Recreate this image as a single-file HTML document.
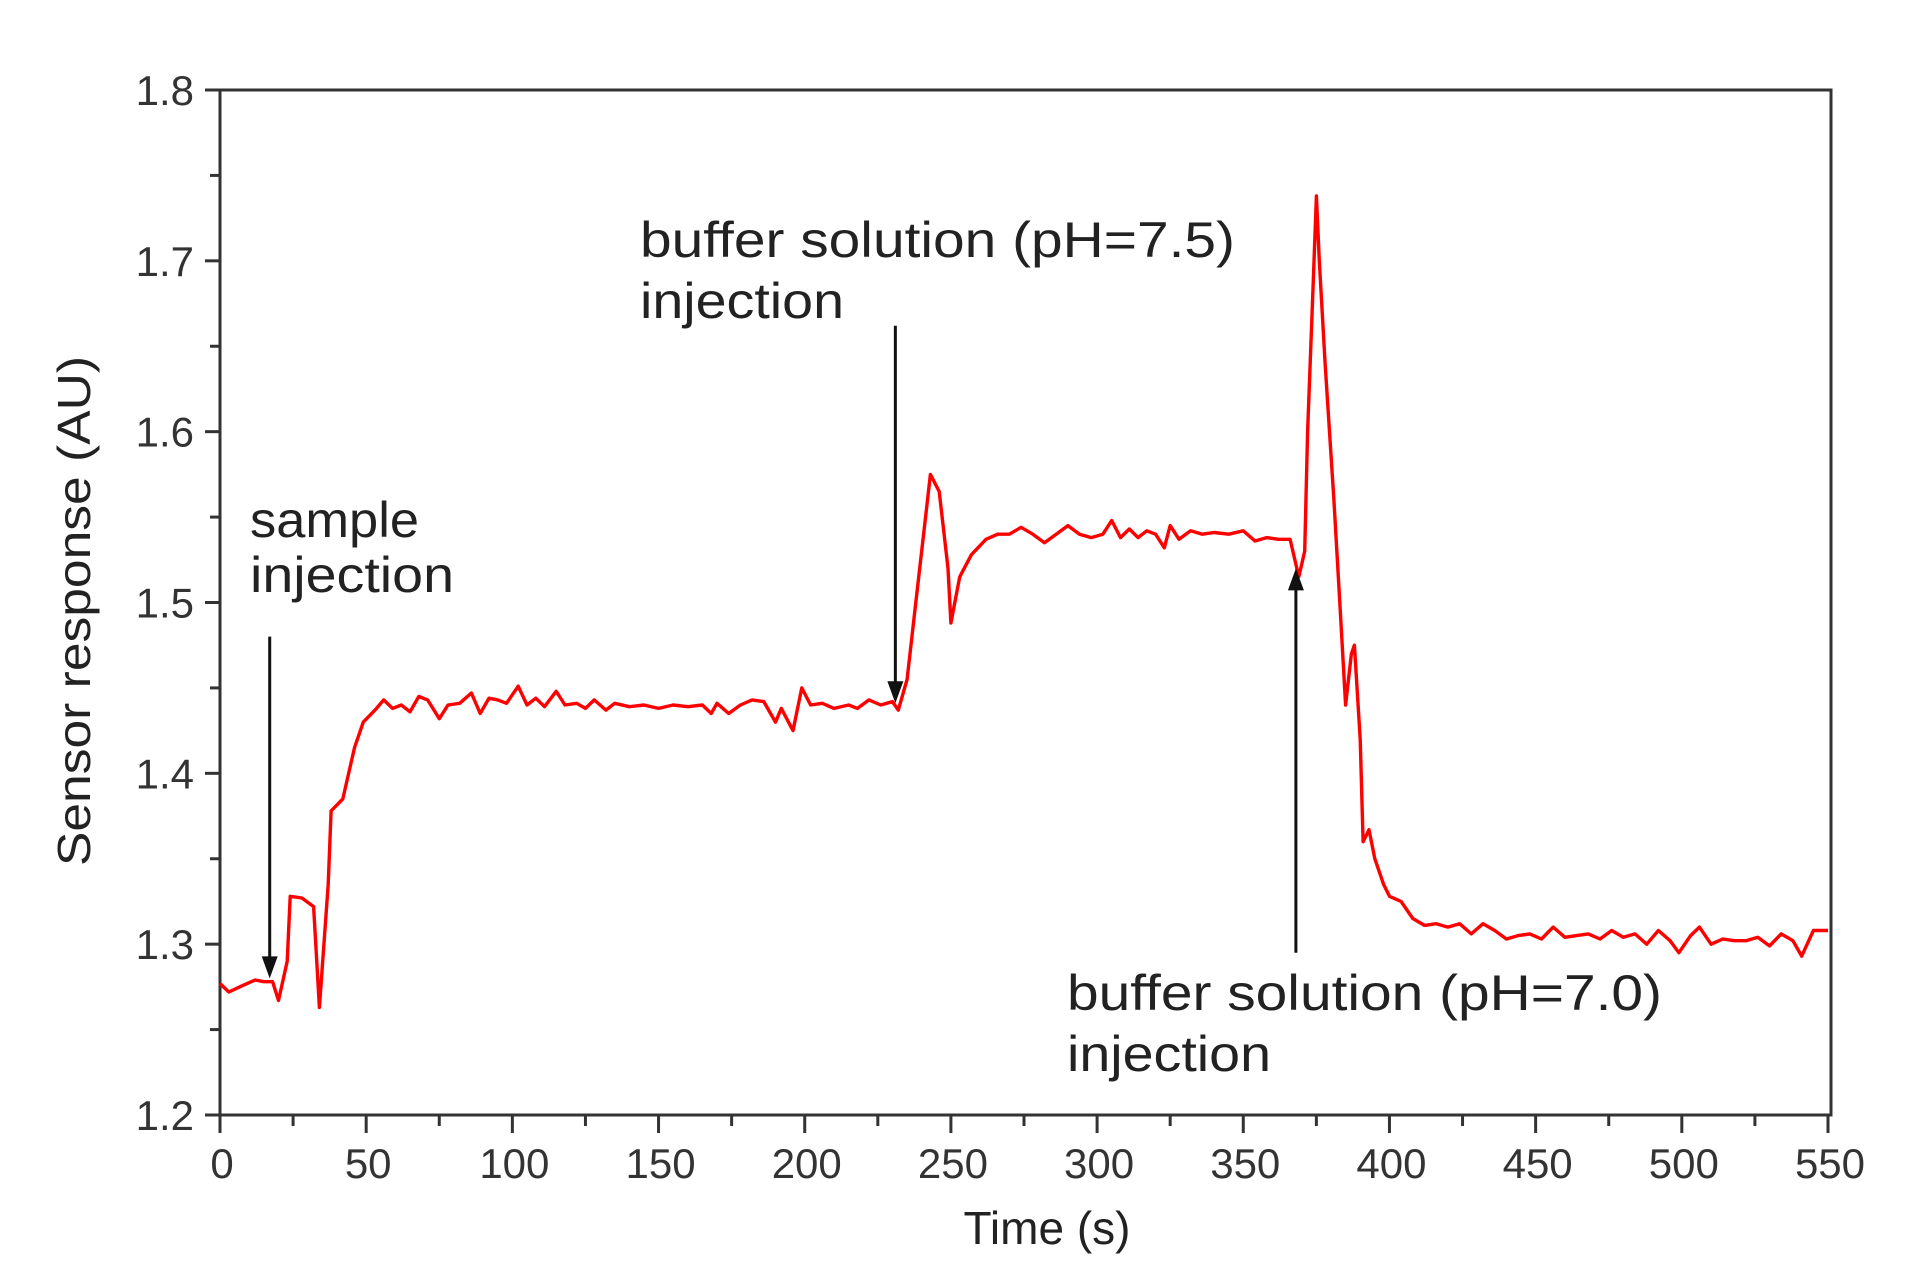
<!DOCTYPE html>
<html><head><meta charset="utf-8"><style>
html,body{margin:0;padding:0;background:#fff;}
svg{display:block;font-family:"Liberation Sans",sans-serif;}
</style></head><body>
<svg id="chart" width="1907" height="1277" viewBox="0 0 1907 1277" xmlns="http://www.w3.org/2000/svg">
<rect width="1907" height="1277" fill="#fff"/>
<g id="axes"></g>
<path id="series" fill="none" stroke="#ff0000" stroke-width="3.4" stroke-linejoin="round"/>
<g id="annot"></g>
<text transform="translate(90,611) rotate(-90)" text-anchor="middle" font-size="46" fill="#222" textLength="510" lengthAdjust="spacingAndGlyphs">Sensor response (AU)</text>
<text x="1047" y="1244" text-anchor="middle" font-size="46" fill="#222">Time (s)</text>
<text x="250" y="537" font-size="50" fill="#222" textLength="169" lengthAdjust="spacingAndGlyphs">sample</text>
<text x="250" y="592" font-size="50" fill="#222" textLength="204" lengthAdjust="spacingAndGlyphs">injection</text>
<text x="640" y="257" font-size="50" fill="#222" textLength="595" lengthAdjust="spacingAndGlyphs">buffer solution (pH=7.5)</text>
<text x="640" y="318" font-size="50" fill="#222" textLength="204" lengthAdjust="spacingAndGlyphs">injection</text>
<text x="1067" y="1010" font-size="50" fill="#222" textLength="595" lengthAdjust="spacingAndGlyphs">buffer solution (pH=7.0)</text>
<text x="1067" y="1071" font-size="50" fill="#222" textLength="204" lengthAdjust="spacingAndGlyphs">injection</text>
</svg>
<script>
const times=[0,3,8,12,15,18,20,23,24,28,32,34,37,38,42,46,49,53,56,59,62,65,68,71,75,78,82,86,89,92,95,98,102,105,108,111,115,118,122,125,128,132,135,140,145,150,155,160,165,168,170,174,178,182,186,190,192,196,199,202,206,210,215,218,222,226,230,232,235,238,241,243,246,249,250,253,257,262,266,270,274,278,282,286,290,294,298,302,305,308,311,314,317,320,323,325,328,332,336,340,345,350,354,358,362,366,369,371,372,374,375,376,378,381,383,385,387,388,390,391,393,395,398,400,404,408,412,416,420,424,428,432,436,440,444,448,452,456,460,464,468,472,476,480,484,488,492,496,499,503,506,510,514,518,522,526,530,534,538,541,545,550];
const responses=[1.277,1.272,1.276,1.279,1.278,1.278,1.267,1.290,1.328,1.327,1.322,1.263,1.335,1.378,1.385,1.415,1.430,1.437,1.443,1.438,1.440,1.436,1.445,1.443,1.432,1.440,1.441,1.447,1.435,1.444,1.443,1.441,1.451,1.440,1.444,1.439,1.448,1.440,1.441,1.438,1.443,1.437,1.441,1.439,1.440,1.438,1.440,1.439,1.440,1.435,1.441,1.435,1.440,1.443,1.442,1.430,1.438,1.425,1.450,1.440,1.441,1.438,1.440,1.438,1.443,1.440,1.442,1.437,1.455,1.500,1.545,1.575,1.565,1.520,1.488,1.515,1.528,1.537,1.540,1.540,1.544,1.540,1.535,1.540,1.545,1.540,1.538,1.540,1.548,1.538,1.543,1.538,1.542,1.540,1.532,1.545,1.537,1.542,1.540,1.541,1.540,1.542,1.536,1.538,1.537,1.537,1.515,1.530,1.600,1.690,1.738,1.700,1.640,1.560,1.500,1.440,1.470,1.475,1.420,1.360,1.367,1.350,1.335,1.328,1.325,1.315,1.311,1.312,1.310,1.312,1.306,1.312,1.308,1.303,1.305,1.306,1.303,1.310,1.304,1.305,1.306,1.303,1.308,1.304,1.306,1.300,1.308,1.302,1.295,1.305,1.310,1.300,1.303,1.302,1.302,1.304,1.299,1.306,1.302,1.293,1.308,1.308];
const xTicks=[0,50,100,150,200,250,300,350,400,450,500,550];
const yTicks=[1.2,1.3,1.4,1.5,1.6,1.7,1.8];
const yLabels=["1.2","1.3","1.4","1.5","1.6","1.7","1.8"];
const arrowX=[17,231,368];
const arrowFrom=[1.480,1.662,1.295];
const arrowTo=[1.280,1.441,1.520];
const arrowNames=["sample-injection-arrow","buffer75-arrow","buffer70-arrow"];

const X0=220,X1=1828,Y0=1115,Y1=90,XMAX=550,YMIN=1.2,YMAX=1.8;
const sx=t=>X0+(X1-X0)*t/XMAX;
const sy=v=>Y0-(Y0-Y1)*(v-YMIN)/(YMAX-YMIN);
const NS="http://www.w3.org/2000/svg";
function mk(tag,attrs,parent){const e=document.createElementNS(NS,tag);for(const k in attrs)e.setAttribute(k,attrs[k]);parent.appendChild(e);return e;}
const axes=document.getElementById('axes');
const frame=mk('rect',{x:X0,y:Y1,width:1831-X0,height:Y0-Y1,fill:'none',stroke:'#333','stroke-width':3},axes);


yTicks.forEach((v,i)=>{
  const y=sy(v);
  const t=mk('line',{x1:X0-15,x2:X0,y1:y,y2:y,stroke:'#333','stroke-width':3},axes);
  
  
  const l=mk('text',{x:194,y:y+15,'text-anchor':'end','font-size':42,fill:'#333'},axes);
  l.textContent=yLabels[i];
  
  
  if(i<yTicks.length-1){
    const ym=sy(v+0.05);
    const m=mk('line',{x1:X0-10,x2:X0,y1:ym,y2:ym,stroke:'#333','stroke-width':3},axes);
    
    
  }
});
xTicks.forEach((v,i)=>{
  const x=sx(v);
  const t=mk('line',{x1:x,x2:x,y1:Y0,y2:Y0+18,stroke:'#333','stroke-width':3},axes);
  
  
  const l=mk('text',{x:x+2,y:1178,'text-anchor':'middle','font-size':42,fill:'#333'},axes);
  l.textContent=String(v);
  
  
  if(i<xTicks.length-1){
    const xm=sx(v+25);
    const m=mk('line',{x1:xm,x2:xm,y1:Y0,y2:Y0+11,stroke:'#333','stroke-width':3},axes);
    
    
  }
});
document.getElementById('series').setAttribute('d',times.map((t,i)=>(i?'L':'M')+sx(t).toFixed(1)+','+sy(responses[i]).toFixed(1)).join(''));
const ann=document.getElementById('annot');
arrowX.forEach((a,i)=>{
  const x=sx(a),y1=sy(arrowFrom[i]),y2=sy(arrowTo[i]);
  const dir=y2>y1?1:-1;
  const g=mk('g',{},ann);
  
  
  mk('line',{x1:x,x2:x,y1:y1,y2:y2-dir*18,stroke:'#111','stroke-width':3},g);
  mk('polygon',{points:`${x-8},${y2-dir*22} ${x+8},${y2-dir*22} ${x},${y2}`,fill:'#111'},g);
});
</script>
</body></html>
